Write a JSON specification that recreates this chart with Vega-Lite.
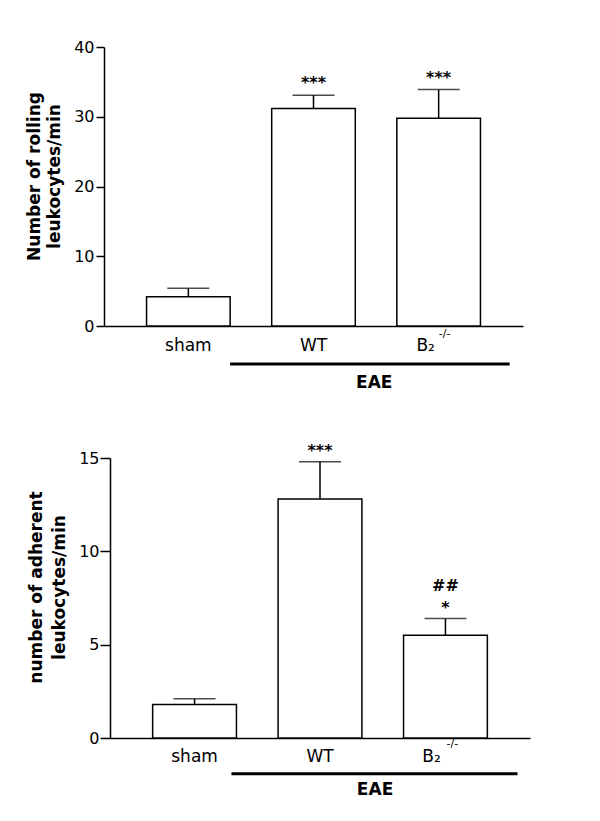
{
  "$schema": "https://vega.github.io/schema/vega-lite/v6.json",
  "background": "white",
  "padding": {"left": 25, "top": 39, "right": 5, "bottom": 5},
  "spacing": 29,
  "config": {
    "font": "DejaVu Sans",
    "view": {"stroke": null},
    "axis": {
      "grid": false,
      "domainColor": "black",
      "domainWidth": 1.5,
      "tickColor": "black",
      "tickWidth": 1.5,
      "labelColor": "black",
      "labelFont": "DejaVu Sans",
      "titleColor": "black",
      "titleFont": "DejaVu Sans",
      "titleFontSize": 17,
      "titleFontWeight": "bold"
    }
  },
  "datasets": {
    "rolling": [
      {"group": "sham", "mean": 4.2, "upper": 5.4, "sig": "", "sig2": "", "sup": ""},
      {"group": "WT", "mean": 31.2, "upper": 33.1, "sig": "***", "sig2": "", "sup": ""},
      {"group": "B2", "mean": 29.8, "upper": 33.9, "sig": "***", "sig2": "", "sup": "-/-"}
    ],
    "adherent": [
      {"group": "sham", "mean": 1.8, "upper": 2.1, "sig": "", "sig2": "", "sup": ""},
      {"group": "WT", "mean": 12.8, "upper": 14.8, "sig": "***", "sig2": "", "sup": ""},
      {"group": "B2", "mean": 5.5, "upper": 6.4, "sig": "*", "sig2": "##", "sup": "-/-"}
    ],
    "eae": [
      {"from": "sham", "to": "B2", "label": "EAE"}
    ]
  },
  "vconcat": [
    {
      "width": 419,
      "height": 279,
      "data": {"name": "rolling"},
      "layer": [
        {
          "mark": {"type": "rule", "color": "black", "strokeWidth": 1.5},
          "encoding": {
            "x": {
              "field": "group", "type": "nominal",
              "scale": {"domain": ["sham", "WT", "B2"], "paddingInner": 0.332, "paddingOuter": 0.34},
              "axis": {
                "title": null, "labelAngle": 0, "ticks": false, "labelFontSize": 17, "labelPadding": 11,
                "labelExpr": "datum.value == 'B2' ? 'B₂' : datum.value",
                "labelOffset": {"condition": {"test": "datum.value == 'B2'", "value": -13}, "value": 0}
              }
            },
            "y": {
              "field": "mean", "type": "quantitative",
              "scale": {"domain": [0, 40], "nice": false},
              "axis": {
                "values": [0, 10, 20, 30, 40], "tickSize": 8, "labelFontSize": 16, "labelPadding": 2,
                "title": ["Number of rolling", "leukocytes/min"], "titleLineHeight": 20, "titlePadding": 10,
                "titleY": 129
              }
            },
            "y2": {"field": "upper"}
          }
        },
        {
          "mark": {"type": "tick", "color": "black", "size": 42, "thickness": 1.5},
          "encoding": {
            "x": {"field": "group", "type": "nominal"},
            "y": {"field": "upper", "type": "quantitative"}
          }
        },
        {
          "mark": {"type": "bar", "fill": "white", "stroke": "black", "strokeWidth": 1.5},
          "encoding": {
            "x": {"field": "group", "type": "nominal"},
            "y": {"field": "mean", "type": "quantitative"}
          }
        },
        {
          "mark": {"type": "text", "baseline": "alphabetic", "dy": -7, "fontSize": 16, "fontWeight": "bold", "color": "black"},
          "encoding": {
            "x": {"field": "group", "type": "nominal"},
            "y": {"field": "upper", "type": "quantitative"},
            "text": {"field": "sig"}
          }
        },
        {
          "mark": {"type": "text", "baseline": "middle", "dx": 6, "dy": 8, "fontSize": 11, "color": "black"},
          "encoding": {
            "x": {"field": "group", "type": "nominal"},
            "y": {"datum": 0},
            "text": {"field": "sup"}
          }
        },
        {
          "data": {"name": "eae"},
          "mark": {"type": "rule", "color": "black", "strokeWidth": 3},
          "encoding": {
            "x": {"field": "from", "type": "nominal", "bandPosition": 1},
            "x2": {"field": "to", "bandPosition": 1.35},
            "y": {"datum": -5.45}
          }
        },
        {
          "data": {"name": "eae"},
          "mark": {"type": "text", "baseline": "middle", "fontSize": 17, "fontWeight": "bold", "color": "black"},
          "encoding": {
            "x": {"field": "to", "type": "nominal", "bandPosition": -0.27},
            "y": {"datum": -8.13},
            "text": {"field": "label"}
          }
        }
      ]
    },
    {
      "width": 426,
      "height": 280,
      "data": {"name": "adherent"},
      "layer": [
        {
          "mark": {"type": "rule", "color": "black", "strokeWidth": 1.5},
          "encoding": {
            "x": {
              "field": "group", "type": "nominal",
              "scale": {"domain": ["sham", "WT", "B2"], "paddingInner": 0.332, "paddingOuter": 0.34, "range": [6, 426]},
              "axis": {
                "title": null, "labelAngle": 0, "ticks": false, "labelFontSize": 17, "labelPadding": 10,
                "labelExpr": "datum.value == 'B2' ? 'B₂' : datum.value",
                "labelOffset": {"condition": {"test": "datum.value == 'B2'", "value": -14}, "value": 0}
              }
            },
            "y": {
              "field": "mean", "type": "quantitative",
              "scale": {"domain": [0, 15], "nice": false},
              "axis": {
                "values": [0, 5, 10, 15], "tickSize": 10, "labelFontSize": 16, "labelPadding": 1, "offset": -6,
                "title": ["number of adherent", "leukocytes/min"], "titleLineHeight": 23, "titlePadding": 10,
                "titleY": 129
              }
            },
            "y2": {"field": "upper"}
          }
        },
        {
          "mark": {"type": "tick", "color": "black", "size": 42, "thickness": 1.5},
          "encoding": {
            "x": {"field": "group", "type": "nominal"},
            "y": {"field": "upper", "type": "quantitative"}
          }
        },
        {
          "mark": {"type": "bar", "fill": "white", "stroke": "black", "strokeWidth": 1.5},
          "encoding": {
            "x": {"field": "group", "type": "nominal"},
            "y": {"field": "mean", "type": "quantitative"}
          }
        },
        {
          "mark": {"type": "text", "baseline": "alphabetic", "dy": -6, "fontSize": 16, "fontWeight": "bold", "color": "black"},
          "encoding": {
            "x": {"field": "group", "type": "nominal"},
            "y": {"field": "upper", "type": "quantitative"},
            "text": {"field": "sig"}
          }
        },
        {
          "mark": {"type": "text", "baseline": "alphabetic", "dy": -28, "fontSize": 16, "fontWeight": "bold", "color": "black"},
          "encoding": {
            "x": {"field": "group", "type": "nominal"},
            "y": {"field": "upper", "type": "quantitative"},
            "text": {"field": "sig2"}
          }
        },
        {
          "mark": {"type": "text", "baseline": "middle", "dx": 7, "dy": 6, "fontSize": 11, "color": "black"},
          "encoding": {
            "x": {"field": "group", "type": "nominal"},
            "y": {"datum": 0},
            "text": {"field": "sup"}
          }
        },
        {
          "data": {"name": "eae"},
          "mark": {"type": "rule", "color": "black", "strokeWidth": 3},
          "encoding": {
            "x": {"field": "from", "type": "nominal", "bandPosition": 0.94},
            "x2": {"field": "to", "bandPosition": 1.36},
            "y": {"datum": -1.91}
          }
        },
        {
          "data": {"name": "eae"},
          "mark": {"type": "text", "baseline": "middle", "fontSize": 17, "fontWeight": "bold", "color": "black"},
          "encoding": {
            "x": {"field": "to", "type": "nominal", "bandPosition": -0.34},
            "y": {"datum": -2.8},
            "text": {"field": "label"}
          }
        }
      ]
    }
  ]
}
